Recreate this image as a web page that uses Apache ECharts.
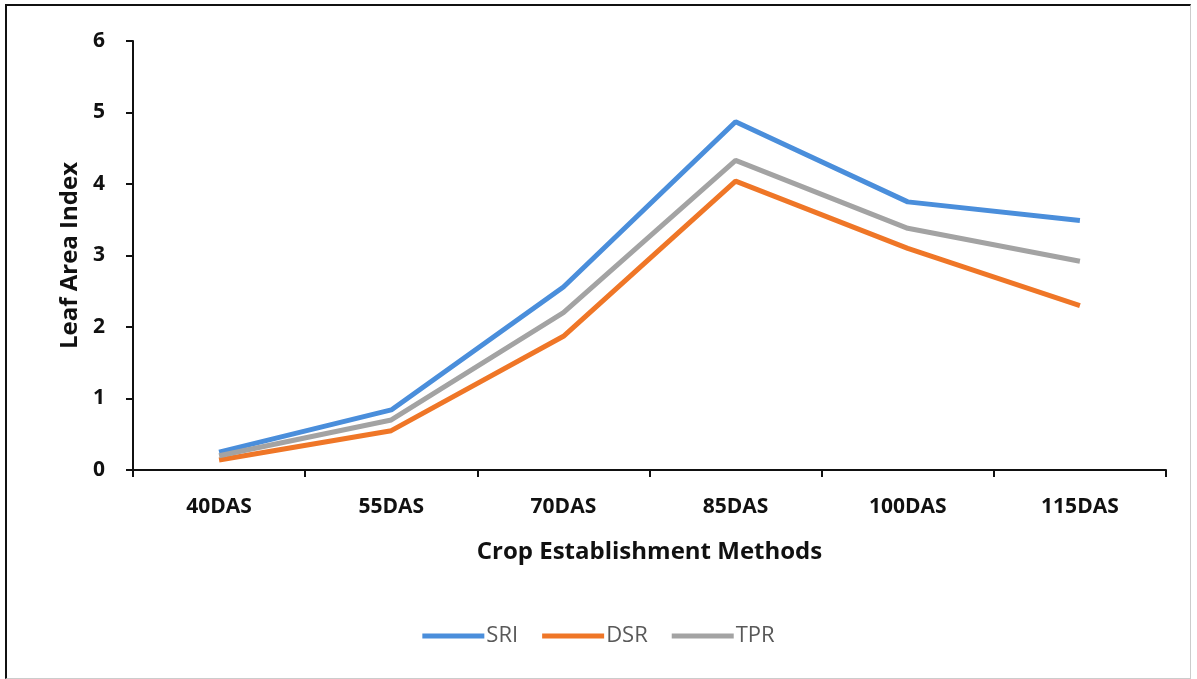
<!DOCTYPE html>
<html>
<head>
<meta charset="utf-8">
<script src="https://cdn.jsdelivr.net/npm/echarts@6/dist/echarts.min.js"></script>
<style>
  body { margin: 0; background: #fff; }
  #chart { position: absolute; left: 0; top: 0; width: 1197px; height: 679px; }
  #frame {
    position: absolute; left: 5px; top: 4px; width: 1183px; height: 672px;
    border-top: 2px solid #111; border-left: 2px solid #111;
    border-right: 1px solid #ccc; border-bottom: 1px solid #ccc;
    pointer-events: none;
  }
</style>
</head>
<body>
<div id="chart"></div>
<div id="frame"></div>
<script>
// categories (x axis)
var categories = ['40DAS', '55DAS', '70DAS', '85DAS', '100DAS', '115DAS'];
// leaf area index values
var sri = [0.25, 0.84, 2.56, 4.87, 3.75, 3.49];
var dsr = [0.14, 0.55, 1.87, 4.04, 3.10, 2.30];
var tpr = [0.20, 0.70, 2.20, 4.33, 3.38, 2.92];

var font = '"Open Sans", "Liberation Sans", sans-serif';

var myChart = echarts.init(document.getElementById('chart'));

var option = {
    animation: false,
    textStyle: { fontFamily: font },
    grid: { left: 133, right: 31, top: 41, bottom: 209 },
    legend: {
        bottom: 27,
        left: 'center',
        icon: 'rect',
        itemWidth: 62,
        itemHeight: 5,
        itemGap: 24,
        textStyle: { fontSize: 22, color: '#595959', fontFamily: font, padding: [0, 0, 0, -3] },
        data: ['SRI', 'DSR', 'TPR']
    },
    xAxis: {
        type: 'category',
        data: categories,
        boundaryGap: true,
        name: 'Crop Establishment Methods',
        nameLocation: 'middle',
        nameGap: 70,
        nameTextStyle: { fontSize: 24, fontWeight: 'bold', color: '#111' },
        axisLine: { lineStyle: { color: '#111', width: 2 } },
        axisTick: { show: true, length: 7, lineStyle: { color: '#111', width: 2 } },
        axisLabel: { fontSize: 21, fontWeight: 'bold', color: '#111', margin: 27 },
        splitLine: { show: false }
    },
    yAxis: {
        type: 'value',
        min: 0,
        max: 6,
        interval: 1,
        name: 'Leaf Area Index',
        nameLocation: 'middle',
        nameGap: 51,
        nameTextStyle: { fontSize: 24, fontWeight: 'bold', color: '#111' },
        axisLine: { show: true, lineStyle: { color: '#111', width: 2 } },
        axisTick: { show: true, length: 7, lineStyle: { color: '#111', width: 2 } },
        axisLabel: { fontSize: 21, fontWeight: 'bold', color: '#111', margin: 28 },
        splitLine: { show: false }
    },
    series: [
        {
            name: 'SRI', type: 'line', data: sri, showSymbol: false, symbol: 'none',
            lineStyle: { width: 5, color: '#4A8EDB' }, itemStyle: { color: '#4A8EDB' }
        },
        {
            name: 'DSR', type: 'line', data: dsr, showSymbol: false, symbol: 'none',
            lineStyle: { width: 5, color: '#EF7627' }, itemStyle: { color: '#EF7627' }
        },
        {
            name: 'TPR', type: 'line', data: tpr, showSymbol: false, symbol: 'none',
            lineStyle: { width: 5, color: '#A3A3A3' }, itemStyle: { color: '#A3A3A3' }
        }
    ]
};

myChart.setOption(option);
</script>
</body>
</html>
